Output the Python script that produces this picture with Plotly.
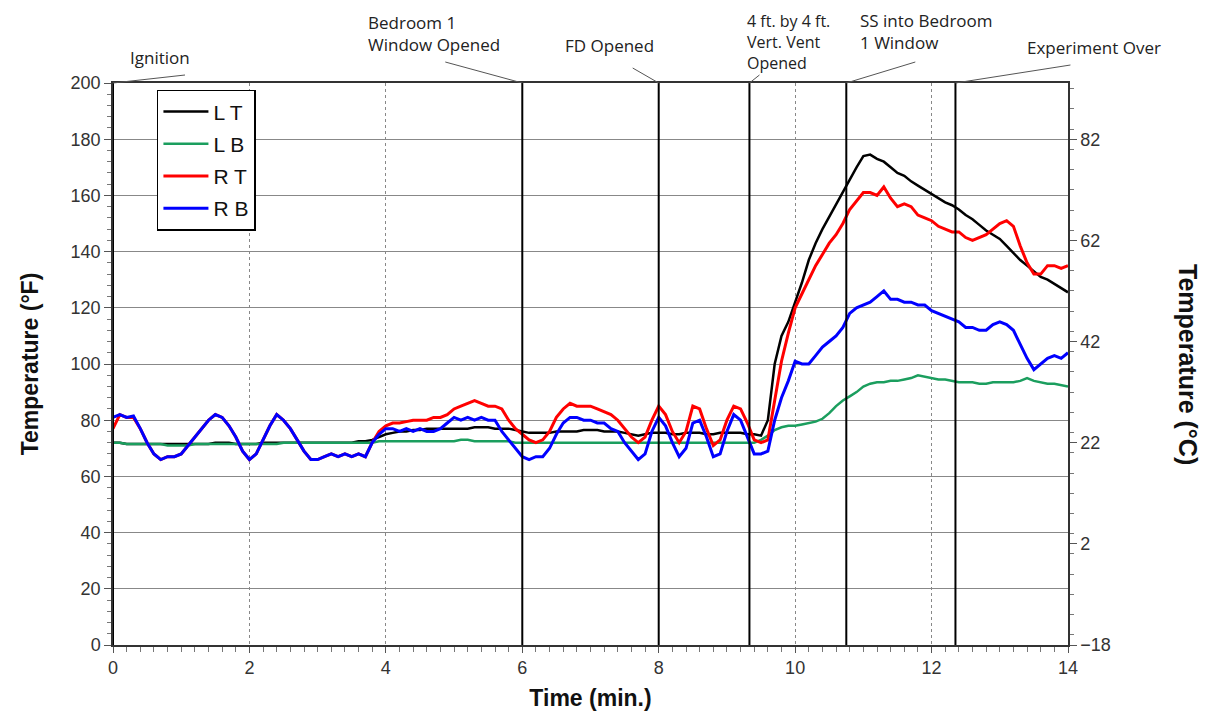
import plotly.graph_objects as go

# ---------------- data ----------------
time_min = [round(0.1 * i, 1) for i in range(141)]

LT = [72, 72, 71.5, 71.5, 71.5, 71.5, 71.5, 71.5, 71.5, 71.5,
      71.5, 71.5, 71.5, 71.5, 71.5, 72, 72, 72, 71.5, 71.5,
      71.5, 71.5, 72, 72, 72, 72, 72, 72, 72, 72,
      72, 72, 72, 72, 72, 72, 72.5, 72.5, 73, 74,
      75, 75.5, 76, 76, 76.5, 76.5, 77, 77, 77, 77,
      77, 77, 77, 77.5, 77.5, 77.5, 77, 77, 77, 76.5,
      76, 75.5, 75.5, 75.5, 75.5, 76, 76, 76, 76, 76.5,
      76.5, 76.5, 76, 76, 76, 75.5, 75, 74.5, 75, 75.5,
      75.5, 75.5, 75, 75, 75.5, 75.5, 75.5, 75, 75, 75.5,
      75.5, 75.5, 75.5, 75, 75, 74.5, 80, 100, 110, 115,
      122, 129, 137, 143, 148, 152.5, 157, 161, 166, 170,
      174, 174.5, 173, 172, 170, 168, 167, 165, 163.5, 162,
      160.5, 159, 157.5, 156.5, 155, 153, 151.5, 149.5, 147.5, 146,
      144.5, 142, 139.5, 137, 135, 133, 131, 130, 128.5, 127,
      125.5]

LB = [72, 72, 71.5, 71.5, 71.5, 71.5, 71.5, 71.5, 71, 71,
      71, 71, 71.5, 71.5, 71.5, 71.5, 71.5, 71.5, 71.5, 71.5,
      71.5, 71.5, 71.5, 71.5, 71.5, 72, 72, 72, 72, 72,
      72, 72, 72, 72, 72, 72, 72, 72, 72, 72.5,
      72.5, 72.5, 72.5, 72.5, 72.5, 72.5, 72.5, 72.5, 72.5, 72.5,
      72.5, 73, 73, 72.5, 72.5, 72.5, 72.5, 72.5, 72.5, 72,
      72, 72, 72, 72, 72, 72, 72, 72, 72, 72,
      72, 72, 72, 72, 72, 72, 72, 72, 72, 72,
      72, 72, 72, 72, 72, 72, 72, 72, 72, 72,
      72, 72, 72, 72, 72, 73, 74.5, 76.5, 77.5, 78,
      78, 78.5, 79, 79.5, 80.5, 82.5, 85, 87, 88.5, 90,
      92, 93, 93.5, 93.5, 94, 94, 94.5, 95, 96, 95.5,
      95, 94.5, 94.5, 94, 93.5, 93.5, 93.5, 93, 93, 93.5,
      93.5, 93.5, 93.5, 94, 95, 94, 93.5, 93, 93, 92.5,
      92]

RT = [77, 82, 81, 81, 77, 72, 68, 66, 67, 67,
      68, 71, 74, 77, 80, 82, 81, 78, 74, 69,
      66, 68, 73, 78, 82, 80, 77, 73, 69, 66,
      66, 67, 68, 67, 68, 67, 68, 67, 72, 76,
      78, 79, 79, 79.5, 80, 80, 80, 81, 81, 82,
      84, 85, 86, 87, 86, 85, 85, 84, 80, 77,
      75, 73, 72, 73, 76, 81, 84, 86, 85, 85,
      85, 84, 83, 82, 80, 77, 74, 72, 74, 80,
      85, 82, 76, 72, 76, 85, 84, 77, 71, 73,
      80, 85, 84, 79, 73, 72, 73, 87, 101, 111,
      120, 125, 130, 135, 139, 143, 146, 150, 155, 158,
      161, 161, 160, 163, 159, 156, 157, 156, 153, 152,
      151, 149, 148, 147, 147, 145, 144, 145, 146, 148,
      150, 151, 149, 142, 136, 132, 132, 135, 135, 134,
      135]

RB = [81, 82, 81, 81.5, 77, 72, 68, 66, 67, 67,
      68, 71, 74, 77, 80, 82, 81, 78, 74, 69,
      66, 68, 73, 78, 82, 80, 77, 73, 69, 66,
      66, 67, 68, 67, 68, 67, 68, 67, 72, 75,
      77, 77, 76, 77, 76, 77, 76, 76, 77, 79,
      81, 80, 81, 80, 81, 80, 80, 76, 73, 70,
      67, 66, 67, 67, 70, 75, 79, 81, 81, 80,
      80, 79, 79, 77, 76, 72, 69, 66, 68, 76,
      81, 78, 72, 67, 70, 79, 80, 74, 67, 68,
      76, 82, 80, 74, 68, 68, 69, 80, 88, 94,
      101, 100, 100, 103, 106, 108, 110, 113, 118, 120,
      121, 122, 124, 126, 123, 123, 122, 122, 121, 121,
      119, 118, 117, 116, 115, 113, 113, 112, 112, 114,
      115, 114, 112, 107, 102, 98, 100, 102, 103, 102,
      104]

series_names = ["L T", "L B", "R T", "R B"]
series_colors = ["#000000", "#1b9e5e", "#ff0000", "#0000ff"]
series_widths = [2.5, 2.5, 3, 3]

event_times = [0.0, 6.0, 8.0, 9.33, 10.75, 12.35]
event_labels = ["Ignition", "Bedroom 1<br>Window Opened", "FD Opened",
                "4 ft. by 4 ft.<br>Vert. Vent<br>Opened", "SS into Bedroom<br>1 Window",
                "Experiment Over"]
# label offsets (px) relative to top of event line, and leader-line ends (px)
label_dx = [15, -156, -96, -4, 12, 70]
label_dy = [26, 50, 38, 41, 52, 36]
leader_dx = [72, -77, -26, 10, 69, 115]
leader_dy = [8, 21, 15, 8, 21, 18]
label_sizes = [17, 17, 17, 16, 17, 17]

x_range = [0, 14]
yF_range = [0, 200]
yC_range = [-18, -18 + (yF_range[1] - yF_range[0]) / 1.8]

# ---------------- figure ----------------
fig = go.Figure()
for i, (name, vals) in enumerate(zip(series_names, [LT, LB, RT, RB])):
    fig.add_trace(go.Scatter(
        x=time_min, y=vals, name=name, mode="lines",
        line=dict(color=series_colors[i], width=series_widths[i]),
        legendgroup=name,
    ))

# invisible trace to carry the Celsius axis
fig.add_trace(go.Scatter(x=x_range, y=yC_range, yaxis="y2", mode="markers",
                         marker=dict(opacity=0), showlegend=False, hoverinfo="skip"))

shapes = []
annotations = []
for i, t in enumerate(event_times):
    shapes.append(dict(type="line", xref="x", yref="paper", x0=t, x1=t, y0=0, y1=1,
                       line=dict(color="black", width=2), layer="above"))
    xp = (t - x_range[0]) / (x_range[1] - x_range[0])
    shapes.append(dict(type="line", xref="paper", yref="paper",
                       xsizemode="pixel", ysizemode="pixel",
                       xanchor=xp, yanchor=1,
                       x0=0, y0=0, x1=leader_dx[i], y1=leader_dy[i],
                       line=dict(color="#555555", width=1)))
    annotations.append(dict(xref="x", yref="paper", x=t, y=1,
                            text=event_labels[i], showarrow=False,
                            xanchor="left", yanchor="middle", align="left",
                            xshift=label_dx[i], yshift=label_dy[i],
                            font=dict(family="Open Sans", size=label_sizes[i], color="#222222")))

title_font = dict(family="Liberation Sans", size=23, color="#111111")

annotations.append(dict(xref="paper", yref="paper", x=1, y=0.5, xshift=120,
                        text="<b>Temperature (°C)</b>", textangle=90, showarrow=False,
                        xanchor="center", yanchor="middle",
                        font=dict(family="Liberation Sans", size=25, color="#111111")))

axis_font = dict(family="Liberation Sans", size=18, color="#333333")

fig.update_layout(
    width=1195, height=703,
    margin=dict(l=105, r=135, t=75, b=66, autoexpand=False),
    paper_bgcolor="white", plot_bgcolor="white",
    showlegend=True,
    legend=dict(x=0.046, y=0.988, xanchor="left", yanchor="top",
                bordercolor="black", borderwidth=1.5, bgcolor="white",
                font=dict(family="Liberation Sans", size=21, color="#111111"),
                tracegroupgap=2, traceorder="grouped", itemwidth=45),
    xaxis=dict(range=x_range, dtick=2, tick0=0, automargin=False,
               showgrid=True, gridcolor="#888888", griddash="dot", gridwidth=1,
               showline=True, linecolor="#333333", linewidth=1.5, mirror=True,
               ticks="outside", ticklen=6, tickcolor="#555555",
               minor=dict(dtick=0.2, ticks="outside", ticklen=5, tickcolor="#777777"),
               tickfont=axis_font, zeroline=False,
               title=dict(text="<b>Time (min.)</b>", standoff=19, font=title_font)),
    yaxis=dict(range=yF_range, dtick=20, tick0=0, automargin=False,
               showgrid=True, gridcolor="#888888", gridwidth=1,
               showline=True, linecolor="#333333", linewidth=1.5,
               ticks="outside", ticklen=7, tickcolor="#555555",
               minor=dict(dtick=4, ticks="outside", ticklen=4, tickcolor="#777777"),
               tickfont=axis_font, zeroline=False,
               title=dict(text="<b>Temperature (°F)</b>", standoff=26, font=title_font)),
    yaxis2=dict(overlaying="y", side="right", range=yC_range, tick0=-18, dtick=20,
                automargin=False, showgrid=False, zeroline=False,
                showline=True, linecolor="#333333", linewidth=1.5,
                ticks="outside", ticklen=7, tickcolor="#555555",
                minor=dict(dtick=4, ticks="outside", ticklen=4, tickcolor="#777777"),
                tickfont=axis_font),
    shapes=shapes,
    annotations=annotations,
)

fig.write_html("out.html")
